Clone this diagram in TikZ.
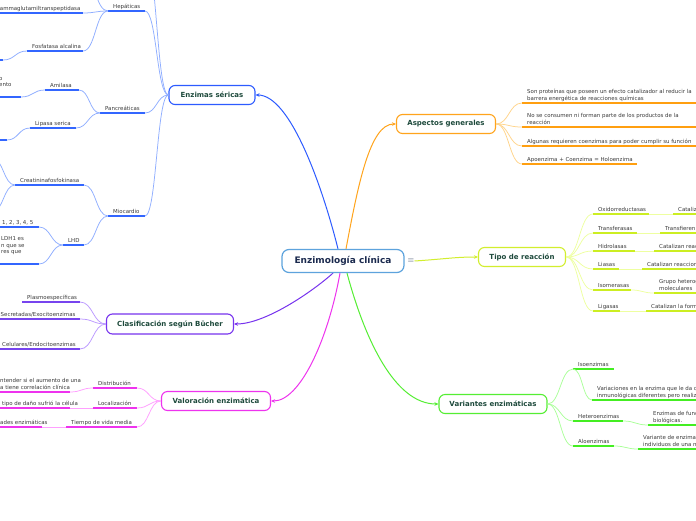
\documentclass[tikz,border=0pt]{standalone}
\usepackage{fontspec}
\setmainfont{DejaVu Sans}
\usetikzlibrary{calc,arrows.meta,backgrounds}

\definecolor{cenB}{HTML}{5DA3DD}
\definecolor{cenT}{HTML}{1B2A4E}
\definecolor{mainT}{HTML}{1E4A3C}
\definecolor{leafT}{HTML}{3A3A3A}
\definecolor{eqC}{HTML}{56657F}
\definecolor{blueB}{HTML}{2D5BFF}
\definecolor{blueU}{HTML}{3366FF}
\definecolor{blueC}{HTML}{8FAEFF}
\definecolor{orB}{HTML}{FFA41C}
\definecolor{orU}{HTML}{FF9F10}
\definecolor{orC}{HTML}{FFD48A}
\definecolor{ygB}{HTML}{D2EE2E}
\definecolor{ygU}{HTML}{CCEE22}
\definecolor{ygC}{HTML}{EEFFA0}
\definecolor{grB}{HTML}{55EE33}
\definecolor{grU}{HTML}{44EE22}
\definecolor{grC}{HTML}{AAFF99}
\definecolor{mgB}{HTML}{EE33EE}
\definecolor{mgU}{HTML}{EE33EE}
\definecolor{mgC}{HTML}{FFA0FF}
\definecolor{puB}{HTML}{7733EE}
\definecolor{puU}{HTML}{7744EE}
\definecolor{puC}{HTML}{BB99FF}

\tikzset{
 mainbox/.style={draw, line width=1.1pt, rounded corners=6pt, fill=white, minimum height=19pt, inner sep=0pt, font=\bfseries\fontsize{7}{8}\selectfont, text=mainT},
 lt/.style={anchor=south west, inner sep=0pt, text depth=0pt, align=left, font=\fontsize{5.45}{6.8}\selectfont, text=leafT},
 ul/.style={line width=1.7pt},
 sc/.style={line width=0.75pt},
 mc/.style={line width=1pt, -{Stealth[length=4pt,width=3.6pt]}},
 mm/.style={to path={let \p1=(\tikztostart), \p2=(\tikztotarget) in .. controls ({(\x1+\x2)/2},\y1) and ({(\x1+\x2)/2},\y2) .. (\tikztotarget)}},
}

\newcommand\lf[6]{%
 \coordinate (#1L) at (#2,#4);
 \coordinate (#1R) at (#3,#4);
 \draw[ul,#5] (#1L) -- (#1R);
 \node[lt] (#1) at (#2+5,#4-2.5) {#6};}

\begin{document}
\begin{tikzpicture}[x=1pt,y=-1pt]
\useasboundingbox (0,0) rectangle (696,520);
\clip (0,0) rectangle (696,520);

% central and main nodes
\node[draw=cenB, line width=1.2pt, rounded corners=7pt, fill=white, minimum width=122pt, minimum height=23pt, inner sep=0pt, font=\bfseries\fontsize{9}{10}\selectfont, text=cenT] (cen) at (343,261) {Enzimología clínica};
\node[text=eqC, font=\fontsize{8.5}{8.5}\selectfont, inner sep=0pt] (eq) at (411,261) {$\equiv$};

\node[mainbox, draw=blueB, minimum width=86pt] (es) at (212,95) {Enzimas séricas};
\node[mainbox, draw=orB, minimum width=99pt] (ag) at (446,124) {Aspectos generales};
\node[mainbox, draw=ygB, minimum width=87pt] (tr) at (522,257) {Tipo de reacción};
\node[mainbox, draw=grB, minimum width=108pt] (ve) at (493,404) {Variantes enzimáticas};
\node[mainbox, draw=mgB, minimum width=109pt] (va) at (216,401) {Valoración enzimática};
\node[mainbox, draw=puB, minimum width=127pt, minimum height=20pt] (cl) at (170,324) {Clasificación según Bücher};

\begin{scope}[on background layer]
\fill[white] (0,0) rectangle (696,520);
\draw[mc, draw=blueB] ($(cen.north)+(-5,0)$) .. controls (322,185) and (290,95) .. (es.east);
\draw[mc, draw=orB] ($(cen.north)+(3,0)$) .. controls (358,185) and (370,124) .. (ag.west);
\draw[mc, draw=ygB] (eq.east) .. controls (445,259) and (455,257) .. (tr.west);
\draw[mc, draw=grB] ($(cen.south)+(4,0)$) .. controls (365,340) and (395,404) .. (ve.west);
\draw[mc, draw=mgB] ($(cen.south)+(-3,0)$) .. controls (328,340) and (300,401) .. (va.east);
\draw[mc, draw=puB] ($(cen.south)+(-10,0)$) .. controls (312,292) and (265,324) .. (cl.east);
\end{scope}

% ---- Enzimas sericas (blue)
\lf{hep}{108}{145}{11}{blueU}{Hepáticas}
\lf{gg}{-9.5}{83}{13}{blueU}{Gammaglutamiltranspeptidasa}
\lf{fa}{27}{83}{51}{blueU}{Fosfatasa alcalina}
\coordinate (faX) at (3,60); \draw[ul,blueU] (-20,60) -- (faX);
\lf{pan}{100}{145}{113}{blueU}{Pancreáticas}
\lf{am}{45}{79}{90}{blueU}{Amilasa}
\coordinate (amX) at (21,97); \draw[ul,blueU] (-20,97) -- (amX);
\node[lt] (amT) at (-1,87) {o\\ento};
\lf{lip}{30}{76}{128}{blueU}{Lipasa serica}
\coordinate (lipX) at (7,140); \draw[ul,blueU] (-20,140) -- (lipX);
\lf{mio}{108}{145}{216}{blueU}{Miocardio}
\lf{ck}{15}{84}{185}{blueU}{Creatininafosfokinasa}
\coordinate (ckX1) at (-8,158); \coordinate (ckX2) at (-8,212);
\lf{lhd}{63}{84}{245}{blueU}{LHD}
\lf{la}{-3}{39}{227}{blueU}{1, 2, 3, 4, 5}
\coordinate (lbR) at (39,264); \draw[ul,blueU] (-20,264) -- (lbR);
\node[lt] (lb) at (1,254) {LDH1 es\\n que se\\res que};
\coordinate (esX) at (145,-45); \coordinate (hepX) at (83,-24);

\begin{scope}[sc, blueC]
\draw (es.west) to[mm] (hepR);
\draw (es.west) to[mm] (panR);
\draw (es.west) to[mm] (mioR);
\draw (es.west) to[mm] (esX);
\draw (hepL) to[mm] (ggR);
\draw (hepL) to[mm] (faR);
\draw (hepL) to[mm] (hepX);
\draw (faL) to[mm] (faX);
\draw (panL) to[mm] (amR);
\draw (panL) to[mm] (lipR);
\draw (amL) to[mm] (amX);
\draw (lipL) to[mm] (lipX);
\draw (mioL) to[mm] (ckR);
\draw (mioL) to[mm] (lhdR);
\draw (ckL) to[mm] (ckX1);
\draw (ckL) to[mm] (ckX2);
\draw (lhdL) to[mm] (laR);
\draw (lhdL) to[mm] (lbR);
\end{scope}

% ---- Clasificacion (purple)
\lf{pl}{22}{80}{302}{puU}{Plasmoespecíficas}
\lf{se}{-4.5}{80}{319}{puU}{Secretadas/Exocitoenzimas}
\lf{ce}{-3}{80}{349}{puU}{Celulares/Endocitoenzimas}
\begin{scope}[sc, puC]
\draw (cl.west) to[mm] (plR);
\draw (cl.west) to[mm] (seR);
\draw (cl.west) to[mm] (ceR);
\end{scope}

% ---- Valoracion (magenta)
\lf{di}{93}{137}{388}{mgU}{Distribución}
\lf{lo}{93}{137}{408}{mgU}{Localización}
\lf{ti}{66}{137}{427}{mgU}{Tiempo de vida media}
\lf{dic}{-5}{70}{392}{mgU}{ntender si el aumento de una\\a tiene correlación clínica}
\lf{loc}{-3}{70}{408}{mgU}{tipo de daño sufrió la célula}
\lf{tic}{-5}{42}{427}{mgU}{ades enzimáticas}
\begin{scope}[sc, mgC]
\draw (va.west) to[mm] (diR);
\draw (va.west) to[mm] (loR);
\draw (va.west) to[mm] (tiR);
\draw (diL) to[mm] (dicR);
\draw (loL) to[mm] (locR);
\draw (tiL) to[mm] (ticR);
\end{scope}

% ---- Aspectos generales (orange)
\lf{a1}{522}{700}{103}{orU}{Son proteínas que poseen un efecto catalizador al reducir la\\barrera energética de reacciones químicas}
\lf{a2}{522}{700}{127}{orU}{No se consumen ni forman parte de los productos de la\\reacción}
\lf{a3}{522}{700}{146}{orU}{Algunas requieren coenzimas para poder cumplir su función}
\lf{a4}{522}{637}{164}{orU}{Apoenzima + Coenzima = Holoenzima}
\begin{scope}[sc, orC]
\draw (ag.east) to[mm] (a1L);
\draw (ag.east) to[mm] (a2L);
\draw (ag.east) to[mm] (a3L);
\draw (ag.east) to[mm] (a4L);
\end{scope}

% ---- Tipo de reaccion (yellow-green)
\lf{t1}{593}{649}{214}{ygU}{Oxidorreductasas}
\lf{t1c}{673}{700}{214}{ygU}{Catalizan}
\lf{t2}{593}{637}{233}{ygU}{Transferasas}
\lf{t2c}{660}{700}{233}{ygU}{Transfieren grupos}
\lf{t3}{593}{635}{251}{ygU}{Hidrolasas}
\lf{t3c}{654}{700}{251}{ygU}{Catalizan reacciones}
\lf{t4}{593}{619}{269}{ygU}{Liasas}
\lf{t4c}{642}{700}{269}{ygU}{Catalizan reacciones de}
\lf{t5}{593}{631}{290}{ygU}{Isomerasas}
\lf{t5c}{654}{700}{293}{ygU}{Grupo heterogéneo\\moleculares}
\lf{t6}{593}{620}{311}{ygU}{Ligasas}
\lf{t6c}{646}{700}{311}{ygU}{Catalizan la formación}
\begin{scope}[sc, ygC]
\draw (tr.east) to[mm] (t1L);
\draw (tr.east) to[mm] (t2L);
\draw (tr.east) to[mm] (t3L);
\draw (tr.east) to[mm] (t4L);
\draw (tr.east) to[mm] (t5L);
\draw (tr.east) to[mm] (t6L);
\draw (t1R) to[mm] (t1cL);
\draw (t2R) to[mm] (t2cL);
\draw (t3R) to[mm] (t3cL);
\draw (t4R) to[mm] (t4cL);
\draw (t5R) to[mm] (t5cL);
\draw (t6R) to[mm] (t6cL);
\end{scope}

% ---- Variantes (green)
\lf{v1}{573}{614}{369}{grU}{Isoenzimas}
\lf{v1c}{592}{700}{400}{grU}{Variaciones en la enzima que le da características\\inmunológicas diferentes pero realizan la misma}
\lf{v2}{573}{623}{421}{grU}{Heteroenzimas}
\lf{v2c}{648}{700}{425}{grU}{Enzimas de función\\biológicas.}
\lf{v3}{573}{614}{446}{grU}{Aloenzimas}
\lf{v3c}{638}{700}{449}{grU}{Variante de enzima e isoenzima\\individuos de una misma}
\begin{scope}[sc, grC]
\draw (ve.east) to[mm] (v1L);
\draw (ve.east) to[mm] (v2L);
\draw (ve.east) to[mm] (v3L);
\draw (v1L) to[mm] (v1cL);
\draw (v2R) to[mm] (v2cL);
\draw (v3R) to[mm] (v3cL);
\end{scope}
\end{tikzpicture}
\end{document}
